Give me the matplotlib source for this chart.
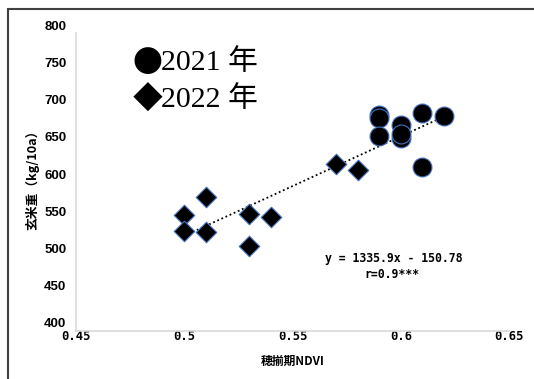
import numpy as np
import matplotlib.pyplot as plt
from matplotlib.patches import Rectangle

# 2021年 (●)
ndvi_2021 = [0.59, 0.59, 0.59, 0.60, 0.60, 0.60, 0.61, 0.62, 0.61]
yield_2021 = [680, 675, 651, 666, 649, 654, 682, 678, 610]
# 2022年 (◆)
ndvi_2022 = [0.50, 0.50, 0.51, 0.51, 0.53, 0.53, 0.54, 0.57, 0.58]
yield_2022 = [545, 523, 569, 522, 546, 504, 542, 614, 605]

# 近似直線
slope = 1335.9
intercept = -150.78
fit_range = [0.50, 0.62]

x_ticks = [0.45, 0.50, 0.55, 0.60, 0.65]
x_ticklabels = ['0.45', '0.5', '0.55', '0.6', '0.65']
y_ticks = [400, 450, 500, 550, 600, 650, 700, 750, 800]

fig = plt.figure(figsize=(5.34, 3.79), dpi=100)
ax = fig.add_axes([0.1429, 0.148, 0.8103, 0.7852])

ax.scatter(ndvi_2022, yield_2022, marker='D', s=110, c='black',
           edgecolors='#4472C4', linewidths=0.8, zorder=3)
ax.scatter(ndvi_2021, yield_2021, marker='o', s=185, c='black',
           edgecolors='#4472C4', linewidths=0.8, zorder=3)

fx = np.array(fit_range)
ax.plot(fx, slope * fx + intercept, color='black', linestyle=(0, (1, 1.5)),
        linewidth=1.3, zorder=2)

ax.set_xlim(0.45, 0.65)
ax.set_ylim(400, 800)
ax.set_xticks(x_ticks)
ax.set_xticklabels(x_ticklabels, family='DejaVu Sans Mono', fontweight='bold', fontsize=8.8)
ax.set_yticks(y_ticks)
ax.set_yticklabels([str(v) for v in y_ticks], family='Liberation Sans', fontweight='bold', fontsize=9.5)
ax.tick_params(axis='both', length=0)
ax.tick_params(axis='y', pad=7.2)
ax.tick_params(axis='x', pad=5.0)

for s in ax.spines.values():
    s.set_visible(False)
# 軸線（Excel風の薄いグレー）
ax.plot([0, 0], [-0.027, 0.974], transform=ax.transAxes, color='#d9d9d9',
        linewidth=1.2, clip_on=False)
ax.plot([0, 1], [-0.027, -0.027], transform=ax.transAxes, color='#d9d9d9',
        linewidth=1.2, clip_on=False)

cjk = ['Noto Sans CJK JP', 'DejaVu Sans']
fig.text(293 / 534, 1 - 361 / 379, '穂揃期NDVI', family=cjk, fontweight='bold',
         fontsize=8.5, ha='center', va='center')
fig.text(32.5 / 534, 1 - 177 / 379, '玄米重（kg/10a）', family=cjk, fontweight='bold',
         fontsize=9.2, ha='center', va='center', rotation=90)

# 凡例風テキスト
serif = ['Liberation Serif', 'Noto Sans CJK JP']
fig.text(133 / 534, 1 - 63 / 379, '●', family=cjk, fontsize=21.5,
         ha='left', va='center')
fig.text(133 / 534, 1 - 100 / 379, '◆', family=cjk, fontsize=21.5,
         ha='left', va='center')
fig.text(161 / 534, 1 - 63 / 379, '2021 年', family=serif, fontsize=21.5,
         ha='left', va='center')
fig.text(161 / 534, 1 - 100 / 379, '2022 年', family=serif, fontsize=21.5,
         ha='left', va='center')

fig.text(393.7 / 534, 1 - 258.5 / 379, 'y = 1335.9x - 150.78', family='DejaVu Sans Mono',
         fontweight='bold', fontsize=8.3, ha='center', va='center')
fig.text(391.7 / 534, 1 - 275 / 379, 'r=0.9***', family='DejaVu Sans Mono',
         fontweight='bold', fontsize=8.3, ha='center', va='center')

# 外枠
fig.patches.append(Rectangle((7.5 / 534, -0.1), 1.2, 1 - 9 / 379 + 0.1,
                             transform=fig.transFigure, fill=False,
                             edgecolor='#404040', linewidth=1.5))

fig.savefig('out.png', dpi=100)
